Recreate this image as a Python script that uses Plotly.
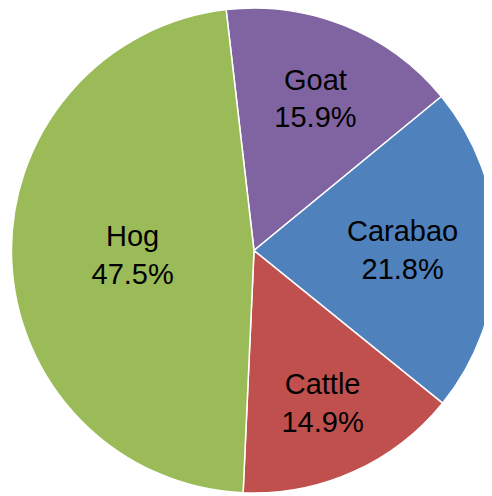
import plotly.graph_objects as go

# livestock share (percent), clockwise from top
labels = ['Goat', 'Carabao', 'Cattle', 'Hog']
shares = [15.9, 21.8, 14.9, 47.5]
colors = ['#8064A2', '#4F81BD', '#C0504D', '#9BBB59']

texts = [f"{lab}<br>{val}%" for lab, val in zip(labels, shares)]

fig = go.Figure(go.Pie(
    labels=labels,
    values=shares,
    text=texts,
    textinfo='text',
    textposition='inside',
    insidetextorientation='horizontal',
    sort=False,
    direction='clockwise',
    rotation=353.4,
    marker=dict(colors=colors, line=dict(color='white', width=1.5)),
    textfont=dict(family='Liberation Sans, Arial, sans-serif', size=29, color='black'),
    domain=dict(x=[0.006, 0.994], y=[0.022, 1]),
    hoverinfo='label+percent',
))

fig.update_layout(
    width=492, height=496,
    margin=dict(l=0, r=0, t=0, b=0),
    paper_bgcolor='white',
    showlegend=False,
    uniformtext=dict(minsize=29, mode='show'),
)

fig.write_html("out.html")
